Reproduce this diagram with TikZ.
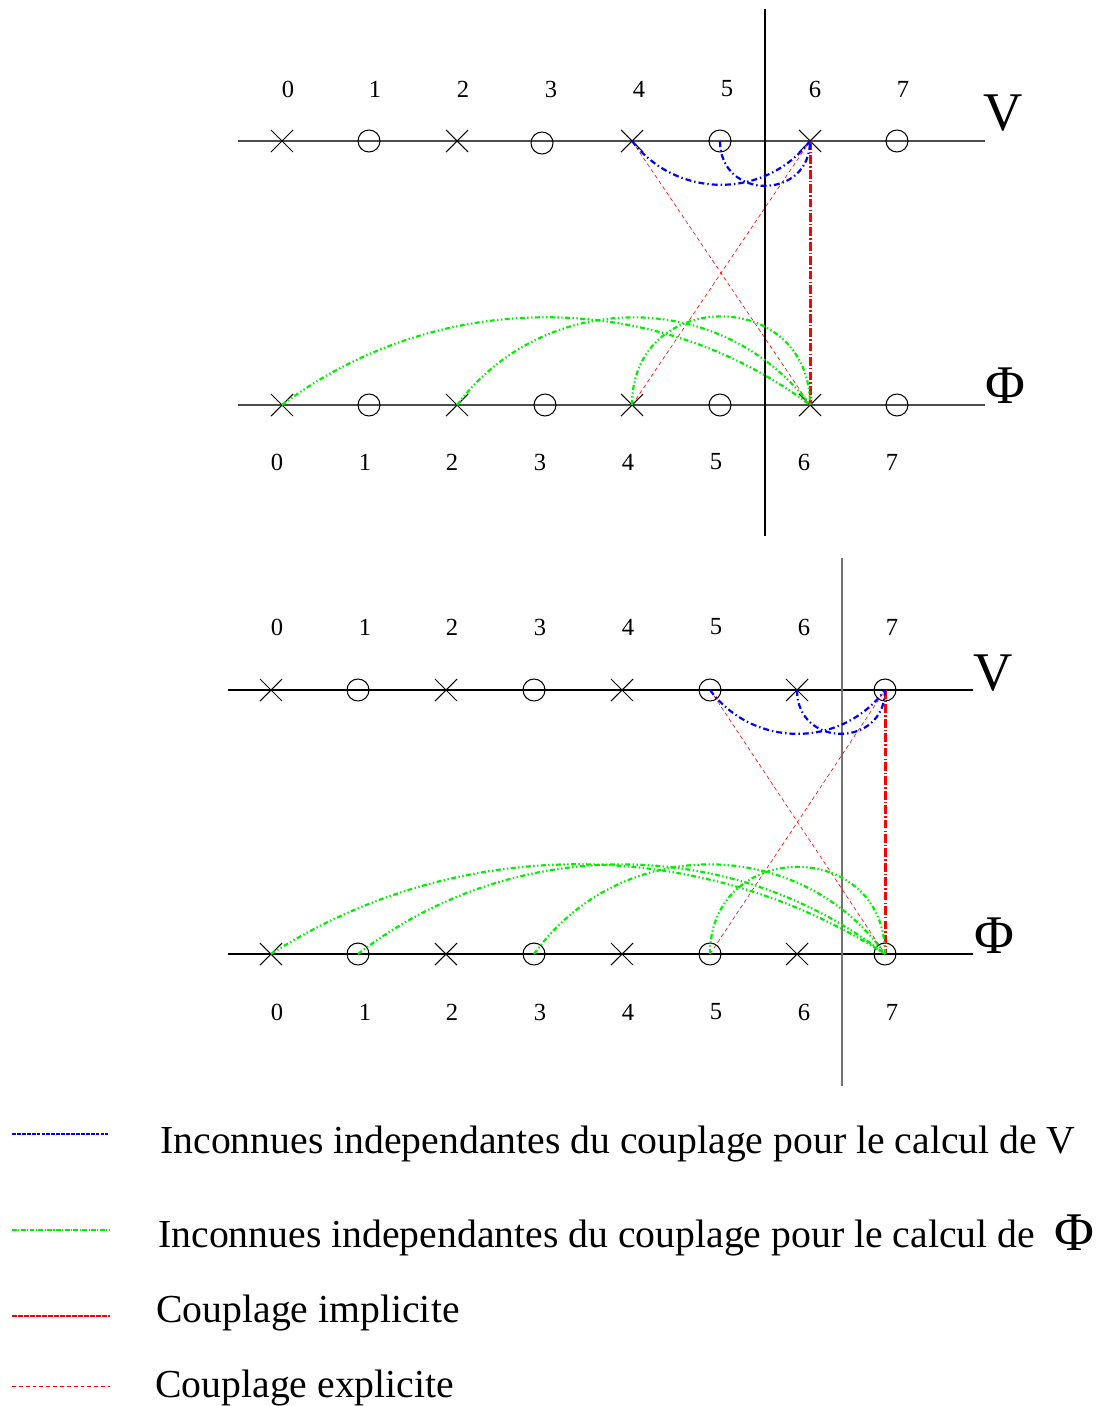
\documentclass[tikz,border=0pt]{standalone}
\usepackage{fontspec}
\setmainfont{Liberation Serif}
\usetikzlibrary{shapes.misc}
\definecolor{bl}{RGB}{0,0,255}
\definecolor{gr}{RGB}{0,240,0}
\definecolor{rd}{RGB}{255,0,0}
\tikzset{
  crossmark/.style={cross out,draw=black,line width=0.6pt,minimum size=0.42cm,inner sep=0pt},
  circmark/.style={circle,draw=black,line width=0.6pt,minimum size=0.44cm,inner sep=0pt},
  num/.style={font=\fontsize{14}{16}\selectfont,inner sep=0pt},
  axislab/.style={font=\fontsize{31}{34}\selectfont,inner sep=0pt},
  legtext/.style={font=\fontsize{22.6}{26}\selectfont,inner sep=0pt,anchor=base west},
  blueline/.style={draw=bl,line width=1.25pt,dash pattern=on 3.4pt off 1.7pt on 0.8pt off 1.7pt},
  greenline/.style={draw=gr,line width=1.25pt,dash pattern=on 2.8pt off 1.4pt on 0.8pt off 1.4pt on 0.8pt off 1.4pt},
  redthick/.style={draw=rd,line width=1.7pt,dash pattern=on 5pt off 1.2pt on 0.8pt off 1.2pt},
  redthin/.style={draw=rd,line width=0.35pt,dash pattern=on 2.2pt off 1.7pt},
  axisgray/.style={draw=black!70,line width=0.85pt},
  axisblack/.style={draw=black,line width=1.1pt}
}
\begin{document}
\begin{tikzpicture}[x=0.02cm,y=-0.02cm]
\useasboundingbox (0,0) rectangle (1098,1406);
% ---------- top diagram ----------
\draw[axisgray] (238,141) -- (985,141);
\draw[axisgray] (238,405) -- (985,405);
\draw[black,line width=1.1pt] (765,9) -- (765,536);
\foreach \i/\x in {0/282,1/369,2/457,3/542,4/632,5/720,6/810,7/897}{
  \pgfmathparse{mod(\i,2)==0?"crossmark":"circmark"}
  \edef\st{\pgfmathresult}
  \node[\st] (tv\i) at (\x,{\i==3?143:141}) {};
}
\foreach \i/\x in {0/282,1/369,2/457,3/545,4/632,5/720,6/810,7/897}{
  \pgfmathparse{mod(\i,2)==0?"crossmark":"circmark"}
  \edef\st{\pgfmathresult}
  \node[\st] (tp\i) at (\x,405) {};
}
\foreach \i/\x in {0/288,1/375,2/463,3/551,4/639,5/727,6/815,7/903}{
  \node[num] (tn\i) at (\x,89) {\i};
}
\foreach \i/\x in {0/277,1/365,2/452,3/540,4/628,5/716,6/804,7/892}{
  \node[num] (tb\i) at (\x,462) {\i};
}
\node[axislab] (tV) at (1003,113) {V};
\node[axislab] (tPhi) at (1005,386) {Φ};
% connectors top
\draw[redthin] (tv4.center) -- (tp6.center);
\draw[redthin] (tp4.center) -- (tv6.center);
\draw[redthick] (tv6.center) -- (tp6.center);
\draw[blueline] (tv4.center) to[out=-52.6,in=-127.4,looseness=1.059] (tv6.center);
\draw[blueline] (tv5.center) to[out=-90,in=-90,looseness=1.703] (tv6.center);
\draw[greenline] (tp0.center) to[out=36.9,in=143.1,looseness=0.946] (tp6.center);
\draw[greenline] (tp2.center) to[out=53,in=127,looseness=1.063] (tp6.center);
\draw[greenline] (tp4.center) to[out=90,in=90,looseness=1.703] (tp6.center);
% ---------- bottom diagram ----------
\draw[axisblack,line width=0.9pt] (228,690) -- (973,690);
\draw[axisblack] (228,954) -- (973,954);
\draw[black!55,line width=1.1pt] (842,558) -- (842,1086);
\foreach \i/\x in {0/271,1/358,2/446,3/534,4/622,5/710,6/797,7/885}{
  \pgfmathparse{mod(\i,2)==0?"crossmark":"circmark"}
  \edef\st{\pgfmathresult}
  \node[\st] (bv\i) at (\x,690) {};
  \node[\st] (bp\i) at (\x,954) {};
}
\foreach \i/\x in {0/277,1/365,2/452,3/540,4/628,5/716,6/804,7/892}{
  \node[num] (bn\i) at (\x,627) {\i};
  \node[num] (bb\i) at (\x,1012) {\i};
}
\node[axislab] (bV) at (993,673) {V};
\node[axislab] (bPhi) at (994,936) {Φ};
% connectors bottom
\draw[redthin] (bv5.center) -- (bp7.center);
\draw[redthin] (bp5.center) -- (bv7.center);
\draw[redthick] (bv7.center) -- (bp7.center);
\draw[blueline] (bv5.center) to[out=-53.4,in=-126.6,looseness=1.067] (bv7.center);
\draw[blueline] (bv6.center) to[out=-90,in=-90,looseness=1.703] (bv7.center);
\draw[greenline] (bp0.center) to[out=32.7,in=147.3,looseness=0.925] (bp7.center);
\draw[greenline] (bp1.center) to[out=37.7,in=142.3,looseness=0.951] (bp7.center);
\draw[greenline] (bp3.center) to[out=54.3,in=125.7,looseness=1.075] (bp7.center);
\draw[greenline] (bp5.center) to[out=90,in=90,looseness=1.703] (bp7.center);
% ---------- legend ----------
\draw[draw=bl,line width=0.7pt,dash pattern=on 2.2pt off 0.6pt] (12,1134) -- (108,1134);
\draw[draw=gr,line width=0.7pt,dash pattern=on 2.8pt off 0.8pt on 0.6pt off 0.8pt] (12,1230) -- (110,1230);
\draw[draw=rd,line width=1.4pt,dash pattern=on 2.8pt off 0.6pt] (12,1316) -- (110,1316);
\draw[draw=rd,line width=0.4pt,dash pattern=on 2.2pt off 1.7pt] (12,1386) -- (110,1386);
\node[legtext] (l1) at (160,1153) {Inconnues independantes du couplage pour le calcul de V};
\node[legtext] (l2) at (158,1247) {Inconnues independantes du couplage pour le calcul de \ \raisebox{-2pt}{\fontsize{31}{34}\selectfont Φ}};
\node[legtext] (l3) at (156,1322) {Couplage implicite};
\node[legtext] (l4) at (155,1397) {Couplage explicite};
\end{tikzpicture}
\end{document}
